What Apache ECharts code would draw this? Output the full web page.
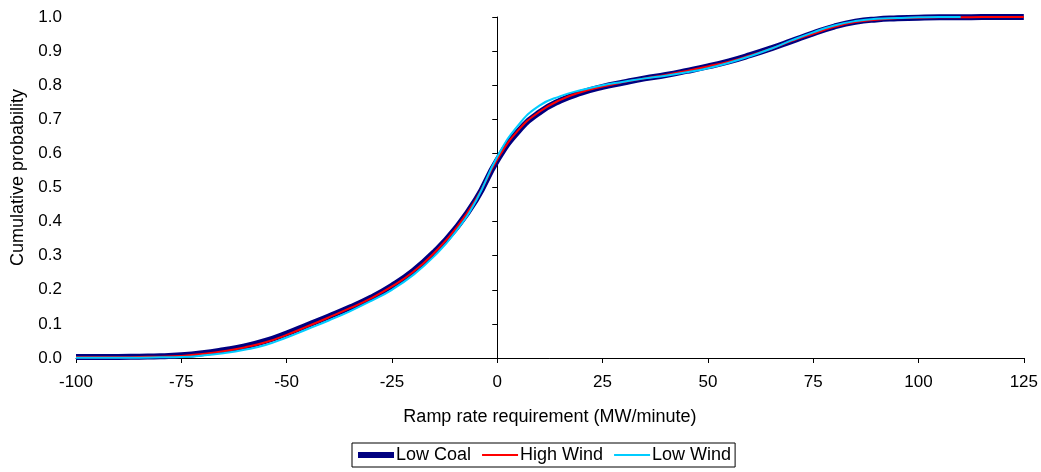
<!DOCTYPE html>
<html>
<head>
<meta charset="utf-8">
<script src="https://cdn.jsdelivr.net/npm/echarts@6/dist/echarts.min.js"></script>
<style>
  html, body { margin: 0; padding: 0; background: #fff; }
  #chart { width: 1041px; height: 472px; }
</style>
</head>
<body>
<div id="chart"></div>
<script>
// ramp rate (MW/minute) at which each cumulative probability was read
const rampRates = [-100, -95, -90, -85, -80, -75, -70, -65, -60, -55, -50, -45, -40, -35, -30, -25, -20, -15, -10, -5,
  0, 5, 10, 15, 20, 25, 30, 35, 40, 45, 50, 55, 60, 65, 70, 75, 80, 85, 90, 95, 100, 105, 110, 115, 120, 125]

const lowCoal = [0.003, 0.003, 0.003, 0.004, 0.005, 0.008, 0.014, 0.023, 0.034, 0.05, 0.072, 0.097, 0.122, 0.148, 0.177, 0.212, 0.255, 0.31, 0.378, 0.465,
  0.58, 0.665, 0.72, 0.755, 0.778, 0.795, 0.808, 0.82, 0.83, 0.842, 0.855, 0.87, 0.888, 0.908, 0.93, 0.952, 0.972, 0.986, 0.993, 0.996, 0.998, 0.999, 0.999, 1.0, 1.0, 1.0]

const highWind = [0.002, 0.002, 0.002, 0.003, 0.004, 0.006, 0.012, 0.02, 0.031, 0.046, 0.068, 0.093, 0.119, 0.146, 0.175, 0.21, 0.252, 0.308, 0.377, 0.466,
  0.582, 0.668, 0.722, 0.757, 0.78, 0.796, 0.809, 0.82, 0.83, 0.842, 0.855, 0.869, 0.887, 0.907, 0.93, 0.951, 0.971, 0.985, 0.992, 0.996, 0.998, 0.999, 0.999, 1.0, 1.0, 1.0]

// low wind stops at 110
const lowWind = [0.001, 0.001, 0.001, 0.001, 0.002, 0.003, 0.007, 0.014, 0.024, 0.038, 0.06, 0.085, 0.11, 0.137, 0.167, 0.2, 0.243, 0.298, 0.368, 0.462,
  0.59, 0.683, 0.74, 0.768, 0.786, 0.8, 0.81, 0.82, 0.828, 0.838, 0.85, 0.866, 0.885, 0.907, 0.932, 0.955, 0.975, 0.988, 0.995, 0.997, 0.999, 1.0, 1.0]

const legendNames = ['Low Coal', 'High Wind', 'Low Wind']
const lineWidths = [6, 2, 2]

const font = 'Liberation Sans, Arial, sans-serif'

function pairs(values) {
  return values.map((v, i) => [rampRates[i], v])
}

const chart = echarts.init(document.getElementById('chart'))

const option = {
  animation: false,
  textStyle: { fontFamily: font },
  grid: {
    left: 76,
    right: 17,
    top: 17,
    bottom: 114,
    containLabel: false,
  },
  legend: {
    data: legendNames.map((name, i) => ({ name, lineStyle: { width: lineWidths[i] } })),
    left: 352,
    top: 443,
    orient: 'horizontal',
    borderColor: '#000',
    borderWidth: 1,
    padding: [3, 4, 3, 3],
    itemWidth: 36,
    itemHeight: 14,
    itemGap: 10,
    selectedMode: false,
    // only the line in the legend icon, no marker
    itemStyle: { opacity: 0 },
    textStyle: {
      fontFamily: font,
      fontSize: 18,
      color: '#000',
      padding: [0, 0, 0, -3],
    },
  },
  xAxis: {
    type: 'value',
    min: -100,
    max: 125,
    interval: 25,
    name: 'Ramp rate requirement (MW/minute)',
    nameLocation: 'middle',
    nameGap: 50,
    nameTextStyle: { fontFamily: font, fontSize: 18, color: '#000' },
    splitLine: { show: false },
    axisLine: { show: true, lineStyle: { color: '#000', width: 1 } },
    axisTick: { show: true, length: 5, lineStyle: { color: '#000' } },
    axisLabel: { color: '#000', fontSize: 17, fontFamily: font, margin: 16 },
  },
  yAxis: [
    {
      // the axis line sits on x = 0, labels are drawn by the second axis
      type: 'value',
      min: 0,
      max: 1,
      interval: 0.1,
      splitLine: { show: false },
      axisLine: { show: true, onZero: true, lineStyle: { color: '#000', width: 1 } },
      axisTick: { show: true, length: 5, lineStyle: { color: '#000' } },
      axisLabel: { show: false },
    },
    {
      type: 'value',
      position: 'left',
      min: 0,
      max: 1,
      interval: 0.1,
      name: 'Cumulative probability',
      nameLocation: 'middle',
      nameGap: 47,
      nameTextStyle: { fontFamily: font, fontSize: 18, color: '#000', padding: [0, 0, 0, 20] },
      splitLine: { show: false },
      axisLine: { show: false, onZero: false },
      axisTick: { show: false },
      axisLabel: {
        color: '#000',
        fontSize: 17,
        fontFamily: font,
        margin: 14,
        formatter: (v) => v.toFixed(1),
      },
    },
  ],
  series: [
    {
      name: 'Low Coal',
      type: 'line',
      smooth: true,
      symbol: 'none',
      yAxisIndex: 0,
      lineStyle: { color: '#000080', width: lineWidths[0] },
      itemStyle: { color: '#000080' },
      data: pairs(lowCoal),
    },
    {
      name: 'High Wind',
      type: 'line',
      smooth: true,
      symbol: 'none',
      yAxisIndex: 0,
      lineStyle: { color: '#FF0000', width: lineWidths[1] },
      itemStyle: { color: '#FF0000' },
      data: pairs(highWind),
    },
    {
      name: 'Low Wind',
      type: 'line',
      smooth: true,
      symbol: 'none',
      yAxisIndex: 0,
      lineStyle: { color: '#00CCFF', width: lineWidths[2] },
      itemStyle: { color: '#00CCFF' },
      data: pairs(lowWind),
    },
  ],
}

chart.setOption(option)
</script>
</body>
</html>
